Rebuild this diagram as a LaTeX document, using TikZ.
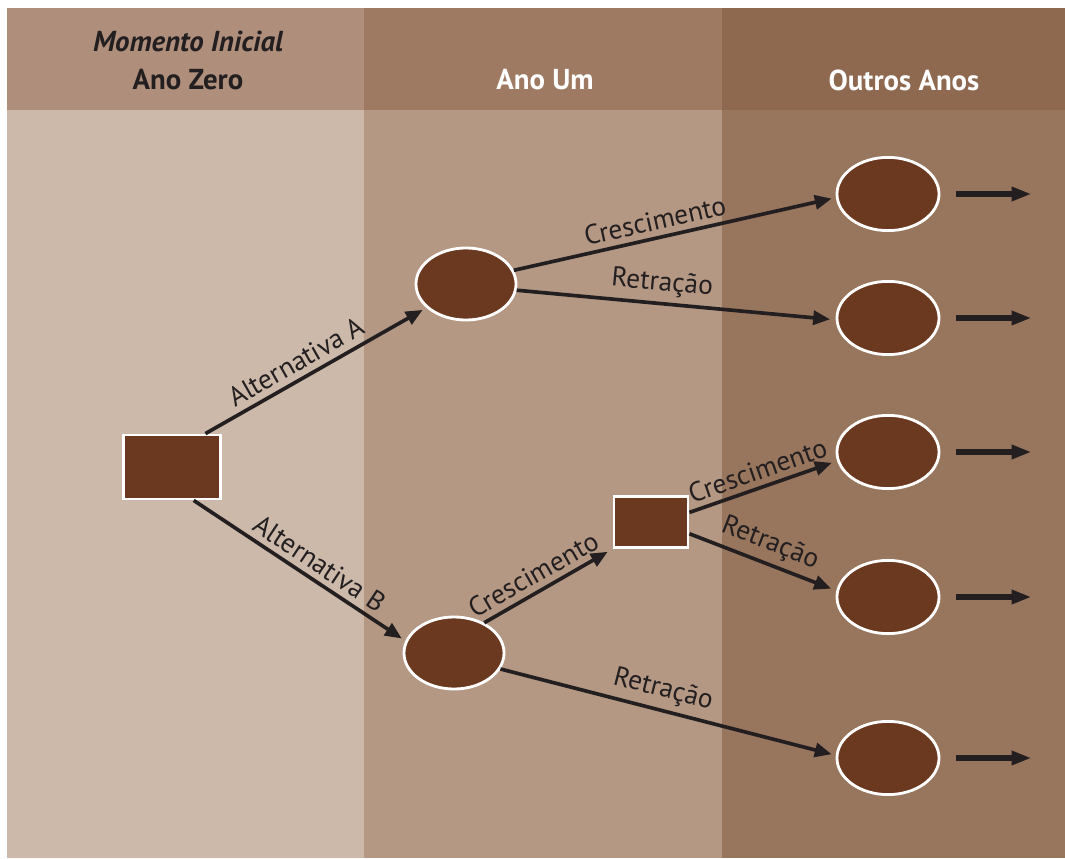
\documentclass[tikz,border=0pt]{standalone}
\usepackage{fontspec}
\setmainfont{PT Sans}
\usetikzlibrary{shapes.geometric,arrows.meta,positioning}
\definecolor{bodyA}{HTML}{CDB9AA}
\definecolor{bodyB}{HTML}{B49883}
\definecolor{bodyC}{HTML}{98755D}
\definecolor{headA}{HTML}{AF8F7B}
\definecolor{headB}{HTML}{9E7A63}
\definecolor{headC}{HTML}{8F6850}
\definecolor{nodebrown}{HTML}{6B3820}
\definecolor{ink}{HTML}{231F20}

\begin{document}
\begin{tikzpicture}[
  x=0.025cm, y=-0.025cm,
  hdr/.style={font=\fontsize{20.5}{23}\selectfont\bfseries, text=#1},
  chance/.style={ellipse, draw=white, line width=2pt, fill=nodebrown,
                 minimum width=2.5cm, minimum height=1.8cm},
  outc/.style={chance, minimum width=2.55cm, minimum height=1.83cm},
  decis/.style={rectangle, draw=white, line width=2pt, fill=nodebrown},
  arr/.style={-{Triangle[length=12pt,width=10pt]}, line width=2.6pt, draw=ink},
  tail/.style={-{Triangle[length=14pt,width=9.5pt]}, line width=3.6pt, draw=ink},
  lab/.style={font=\fontsize{19.5}{21}\selectfont, text=ink, sloped, above, inner sep=4pt},
]
\useasboundingbox (0,0) rectangle (1065,859);
\fill[white] (0,0) rectangle (1065,859);

% ---------- columns ----------
\fill[bodyA] (7,110) rectangle (364,858);
\fill[bodyB] (364,110) rectangle (722,858);
\fill[bodyC] (722,110) rectangle (1065,858);
\fill[headA] (7,8) rectangle (364,110);
\fill[headB] (364,8) rectangle (722,110);
\fill[headC] (722,8) rectangle (1065,110);

\node[hdr=ink, font=\fontsize{20.5}{23}\selectfont\bfseries\itshape] (mom) at (188,41) {Momento Inicial};
\node[hdr=ink]   (zero)  at (188,80) {Ano Zero};
\node[hdr=white] (um)    at (545,80) {Ano Um};
\node[hdr=white] (outros) at (904,80) {Outros Anos};

% ---------- nodes ----------
\node[decis, minimum width=2.43cm, minimum height=1.6cm] (root) at (172,467) {};
\node[chance] (nA) at (466,284) {};
\node[chance] (nB) at (454,653) {};
\node[decis, minimum width=1.85cm, minimum height=1.28cm] (sub) at (651,522) {};

\node[outc] (o1) at (888,194) {};
\node[outc] (o2) at (888,318) {};
\node[outc] (o3) at (888,452) {};
\node[outc] (o4) at (888,597) {};
\node[outc] (o5) at (888,758) {};

% ---------- arrows ----------
\draw[arr, shorten >=3pt] (root.45) -- node[lab, pos=.45]{Alternativa A} (nA.211);
\draw[arr, shorten >=3pt] (root.-57) -- node[lab, pos=.55]{Alternativa B} (nB.166);
\draw[arr, shorten >=3pt] (nA.16) -- node[lab, pos=.45]{Crescimento} (o1.184);
\draw[arr, shorten >=4pt] (nA.-7) -- node[lab, pos=.45]{Retração} (o2.182);
\draw[arr, shorten >=4pt] (nB.45) -- node[lab, pos=.45]{Crescimento} (sub.south west);
\draw[arr, shorten >=3pt] (nB.-19) -- node[lab, pos=.47]{Retração} (o5.177);
\draw[arr, shorten >=4pt] (sub.14) -- node[lab, pos=.5]{Crescimento} (o3.190);
\draw[arr, shorten >=4pt] (sub.-17) -- node[lab, pos=.5]{Retração} (o4.173);

\foreach \o in {o1,o2,o3,o4,o5}
  \draw[tail] ([xshift=0.4cm]\o.east) -- ++(75,0);
\end{tikzpicture}
\end{document}
